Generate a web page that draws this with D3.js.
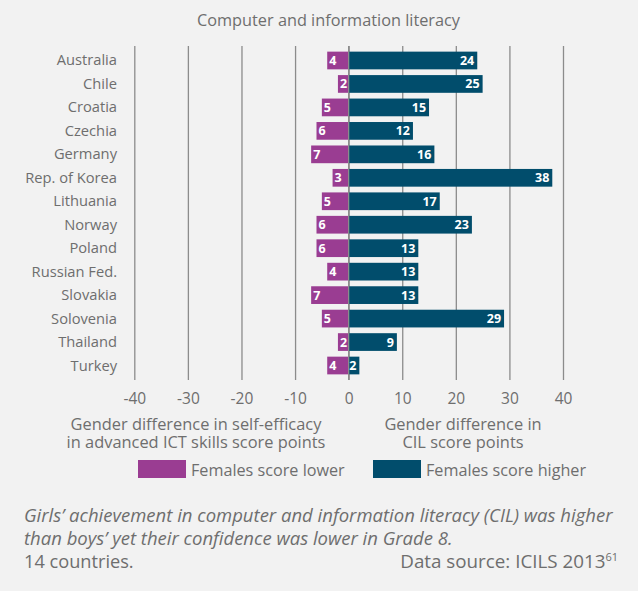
<!DOCTYPE html>
<html>
<head>
<meta charset="utf-8">
<script src="https://cdn.jsdelivr.net/npm/d3@7"></script>
<style>
  html, body { margin: 0; padding: 0; background: #f2f2f2; }
  svg { display: block; font-family: "Open Sans", "Noto Sans", sans-serif; }
</style>
</head>
<body>
<svg id="chart" width="638" height="591"></svg>
<script>
// Gender differences by country, ICILS 2013 (Grade 8)
const countries = ["Australia", "Chile", "Croatia", "Czechia", "Germany", "Rep. of Korea",
  "Lithuania", "Norway", "Poland", "Russian Fed.", "Slovakia", "Solovenia", "Thailand", "Turkey"];
// self-efficacy in advanced ICT skills: females score lower by
const selfEfficacyGap = [4, 2, 5, 6, 7, 3, 5, 6, 6, 4, 7, 5, 2, 4];
// CIL achievement: females score higher by
const cilGap = [24, 25, 15, 12, 16, 38, 17, 23, 13, 13, 13, 29, 9, 2];
const tickValues = [-40, -30, -20, -10, 0, 10, 20, 30, 40];
const legendLabels = ["Females score lower", "Females score higher"];

const PURPLE = "#9a3d92";
const BLUE = "#014d6c";
const TEXT = "#6e6e6e";
const GRID = "#8c8c8c";

const svg = d3.select("#chart");
svg.append("rect").attr("width", 638).attr("height", 591).attr("fill", "#f2f2f2");

const x = d3.scaleLinear().domain([-40, 40]).range([134.3, 563]);
const y = d3.scaleBand().domain(countries).range([46, 380])
  .paddingInner(0.245).paddingOuter(0.24);

const rows = countries.map((c, i) => ({ country: c, lower: selfEfficacyGap[i], higher: cilGap[i] }));

// title
svg.append("text").attr("x", 328.5).attr("y", 26)
  .attr("text-anchor", "middle").attr("fill", TEXT).attr("font-size", 16.3)
  .text("Computer and information literacy");

// gridlines + tick labels
const axis = svg.append("g").attr("transform", "translate(0,380)")
  .call(d3.axisBottom(x).tickValues(tickValues).tickSize(-(380 - 46)).tickPadding(13)
    .tickFormat(d => String(d)));
axis.select(".domain").remove();
axis.selectAll(".tick line").attr("stroke", GRID).attr("stroke-width", 1.3);
axis.selectAll(".tick text").attr("fill", TEXT).attr("font-size", 15.5)
  .attr("font-family", "\"Open Sans\", sans-serif");

// country labels
svg.append("g").selectAll("text").data(rows).join("text")
  .attr("x", 117).attr("y", d => y(d.country) + y.bandwidth() / 2 + 5)
  .attr("text-anchor", "end").attr("fill", TEXT).attr("font-size", 14.7)
  .text(d => d.country);

// bars: self-efficacy (negative side)
const barG = svg.append("g");
barG.selectAll("rect.lower").data(rows).join("rect").attr("class", "lower")
  .attr("x", d => x(-d.lower)).attr("y", d => y(d.country))
  .attr("width", d => x(0) - x(-d.lower)).attr("height", y.bandwidth())
  .attr("fill", PURPLE);
barG.selectAll("rect.higher").data(rows).join("rect").attr("class", "higher")
  .attr("x", x(0)).attr("y", d => y(d.country))
  .attr("width", d => x(d.higher) - x(0)).attr("height", y.bandwidth())
  .attr("fill", BLUE);

// zero line sits above the bars
svg.append("line").attr("x1", x(0)).attr("x2", x(0)).attr("y1", 46).attr("y2", 380)
  .attr("stroke", GRID).attr("stroke-width", 1.3);

// value labels
const lab = svg.append("g").attr("fill", "#ffffff").attr("font-weight", 700).attr("font-size", 12.5);
lab.selectAll("text.lower").data(rows).join("text").attr("class", "lower")
  .attr("x", d => x(-d.lower) + 2).attr("y", d => y(d.country) + y.bandwidth() / 2 + 4.5)
  .text(d => d.lower);
lab.selectAll("text.higher").data(rows).join("text").attr("class", "higher")
  .attr("x", d => x(d.higher) - 3).attr("y", d => y(d.country) + y.bandwidth() / 2 + 4.5)
  .attr("text-anchor", "end")
  .text(d => d.higher);

// axis titles, one text per line
const titleLines = [
  { x: 196, y: 430, t: "Gender difference in self-efficacy" },
  { x: 196, y: 448, t: "in advanced ICT skills score points" },
  { x: 463, y: 430, t: "Gender difference in" },
  { x: 463, y: 448, t: "CIL score points" }
];
svg.append("g").selectAll("text").data(titleLines).join("text")
  .attr("x", d => d.x).attr("y", d => d.y).attr("text-anchor", "middle")
  .attr("fill", TEXT).attr("font-size", 16.4).text(d => d.t);

// legend
const legend = [
  { label: legendLabels[0], color: PURPLE, x: 138 },
  { label: legendLabels[1], color: BLUE, x: 373 }
];
const lg = svg.append("g").selectAll("g").data(legend).join("g");
lg.append("rect").attr("x", d => d.x).attr("y", 460).attr("width", 48).attr("height", 18)
  .attr("fill", d => d.color);
lg.append("text").attr("x", d => d.x + 53).attr("y", 476).attr("fill", TEXT).attr("font-size", 16.2)
  .text(d => d.label);

// caption and source
const cap = svg.append("g").attr("fill", TEXT);
cap.append("text").attr("x", 24).attr("y", 522).attr("font-size", 18.5).attr("font-style", "italic")
  .text("Girls’ achievement in computer and information literacy (CIL) was higher");
cap.append("text").attr("x", 24).attr("y", 545).attr("font-size", 18.5).attr("font-style", "italic")
  .text("than boys’ yet their confidence was lower in Grade 8.");
cap.append("text").attr("x", 24).attr("y", 568).attr("font-size", 18.2)
  .text("14 countries.");
const src = cap.append("text").attr("x", 618).attr("y", 568).attr("font-size", 18.8)
  .attr("text-anchor", "end");
src.append("tspan").text("Data source: ICILS 2013");
src.append("tspan").attr("font-size", 11).attr("dy", -7).text("61");
</script>
</body>
</html>
